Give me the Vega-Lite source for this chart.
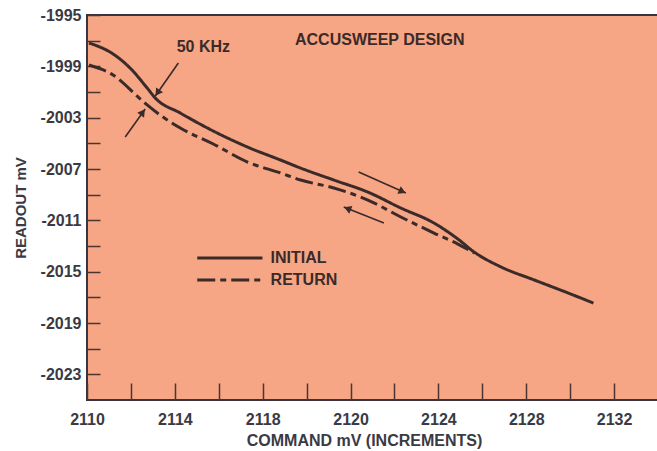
{
  "$schema": "https://vega.github.io/schema/vega-lite/v6.json",
  "width": 571,
  "height": 385,
  "autosize": {"type": "none"},
  "padding": {"left": 87, "top": 15, "right": 0, "bottom": 51},
  "background": "white",
  "config": {
    "view": {"fill": "#F6A684", "stroke": "#3a3340", "strokeWidth": 2},
    "axis": {
      "domain": false,
      "grid": false,
      "labelFont": "Liberation Sans",
      "labelFontWeight": "bold",
      "labelFontSize": 16,
      "labelColor": "#3a3a44",
      "titleFont": "Liberation Sans",
      "titleFontWeight": "bold",
      "titleFontSize": 15,
      "titleColor": "#3a3a44",
      "tickColor": "#4a3434",
      "tickWidth": 1.5,
      "labelFlush": false,
      "labelOverlap": false
    }
  },
  "datasets": {
    "curves": [
      {"series": "INITIAL", "x": 2108.09, "y": -1997.18},
      {"series": "INITIAL", "x": 2109.19, "y": -1998.04},
      {"series": "INITIAL", "x": 2109.96, "y": -1999.13},
      {"series": "INITIAL", "x": 2110.74, "y": -2000.69},
      {"series": "INITIAL", "x": 2111.11, "y": -2001.47},
      {"series": "INITIAL", "x": 2112.25, "y": -2002.64},
      {"series": "INITIAL", "x": 2113.75, "y": -2004.04},
      {"series": "INITIAL", "x": 2115.31, "y": -2005.29},
      {"series": "INITIAL", "x": 2116.81, "y": -2006.30},
      {"series": "INITIAL", "x": 2117.73, "y": -2006.93},
      {"series": "INITIAL", "x": 2119.24, "y": -2007.86},
      {"series": "INITIAL", "x": 2120.79, "y": -2008.80},
      {"series": "INITIAL", "x": 2122.29, "y": -2010.04},
      {"series": "INITIAL", "x": 2123.80, "y": -2011.21},
      {"series": "INITIAL", "x": 2124.89, "y": -2012.46},
      {"series": "INITIAL", "x": 2125.63, "y": -2013.47},
      {"series": "INITIAL", "x": 2126.86, "y": -2014.64},
      {"series": "INITIAL", "x": 2128.37, "y": -2015.65},
      {"series": "INITIAL", "x": 2129.92, "y": -2016.67},
      {"series": "INITIAL", "x": 2131.06, "y": -2017.45},
      {"series": "RETURN", "x": 2108.09, "y": -1998.90},
      {"series": "RETURN", "x": 2109.19, "y": -1999.68},
      {"series": "RETURN", "x": 2110.33, "y": -2001.39},
      {"series": "RETURN", "x": 2110.74, "y": -2002.01},
      {"series": "RETURN", "x": 2112.25, "y": -2003.81},
      {"series": "RETURN", "x": 2113.75, "y": -2005.05},
      {"series": "RETURN", "x": 2115.31, "y": -2006.46},
      {"series": "RETURN", "x": 2116.81, "y": -2007.31},
      {"series": "RETURN", "x": 2117.73, "y": -2007.86},
      {"series": "RETURN", "x": 2119.24, "y": -2008.48},
      {"series": "RETURN", "x": 2120.79, "y": -2009.42},
      {"series": "RETURN", "x": 2122.29, "y": -2010.74},
      {"series": "RETURN", "x": 2123.80, "y": -2011.99},
      {"series": "RETURN", "x": 2124.89, "y": -2012.85},
      {"series": "RETURN", "x": 2125.63, "y": -2013.55}
    ],
    "arrows": [
      {"id": "a1", "x": 2112.16, "y": -1998.74, "x2": 2111.11, "y2": -2001.31, "hx": 2111.21, "hy": -2001.06, "angle": 214.9},
      {"id": "a2", "x": 2109.74, "y": -2004.51, "x2": 2110.65, "y2": -2002.32, "hx": 2110.54, "hy": -2002.58, "angle": 35.5},
      {"id": "a3", "x": 2120.37, "y": -2007.24, "x2": 2122.52, "y2": -2008.87, "hx": 2122.36, "hy": -2008.75, "angle": 114.1},
      {"id": "a4", "x": 2121.52, "y": -2011.21, "x2": 2119.69, "y2": -2009.96, "hx": 2119.86, "hy": -2010.08, "angle": 291.8}
    ],
    "notes": [
      {"x": 2113.30, "y": -1997.49, "text": "50 KHz"},
      {"x": 2121.33, "y": -1996.95, "text": "ACCUSWEEP DESIGN"}
    ],
    "key": [
      {"series": "INITIAL", "x": 2113.02, "x2": 2115.99, "y": -2013.94, "tx": 2116.36},
      {"series": "RETURN", "x": 2113.02, "x2": 2115.99, "y": -2015.65, "tx": 2116.36}
    ]
  },
  "encoding": {
    "x": {
      "field": "x",
      "type": "quantitative",
      "scale": {"domain": [2108, 2134], "nice": false, "zero": false},
      "axis": {
        "title": "COMMAND mV (INCREMENTS)",
        "titleFontSize": 16,
        "values": [2108, 2110, 2112, 2114, 2116, 2118, 2120, 2122, 2124, 2126, 2128, 2130, 2132],
        "format": "d",
        "labelExpr": "datum.value == 2108 ? '2110' : datum.value == 2112 ? '2114' : datum.value == 2116 ? '2118' : (datum.value % 4 == 0 ? datum.label : '')",
        "tickSize": -17,
        "labelPadding": 28,
        "titlePadding": 5,
        "titleX": 277
      }
    },
    "y": {
      "field": "y",
      "type": "quantitative",
      "scale": {"domain": [-2025, -1995], "nice": false, "zero": false},
      "axis": {
        "title": "READOUT mV",
        "values": [-2023, -2021, -2019, -2017, -2015, -2013, -2011, -2009, -2007, -2005, -2003, -2001, -1999, -1997, -1995],
        "labelExpr": "(datum.value + 1995) % 4 == 0 ? '-' + (-datum.value) : ''",
        "tickSize": -13,
        "labelPadding": 19,
        "titlePadding": 12
      }
    }
  },
  "layer": [
    {
      "data": {"name": "curves"},
      "mark": {"type": "line", "color": "#3b2a2a", "strokeWidth": 3, "interpolate": "monotone"},
      "encoding": {
        "detail": {"field": "series", "type": "nominal"},
        "strokeDash": {
          "field": "series",
          "type": "nominal",
          "scale": {"domain": ["INITIAL", "RETURN"], "range": [[1, 0], [18, 5, 6, 5]]},
          "legend": null
        }
      }
    },
    {
      "data": {"name": "arrows"},
      "mark": {"type": "rule", "color": "#3b2a2a", "strokeWidth": 1.6},
      "encoding": {
        "x2": {"field": "x2"},
        "y2": {"field": "y2"}
      }
    },
    {
      "data": {"name": "arrows"},
      "mark": {"type": "point", "shape": "triangle-up", "filled": true, "color": "#3b2a2a", "size": 70, "opacity": 1, "strokeWidth": 0},
      "encoding": {
        "x": {"field": "hx", "type": "quantitative"},
        "y": {"field": "hy", "type": "quantitative"},
        "angle": {"field": "angle", "type": "quantitative", "scale": null}
      }
    },
    {
      "data": {"name": "notes"},
      "mark": {"type": "text", "font": "Liberation Sans", "fontWeight": "bold", "fontSize": 16, "color": "#3b2a2a", "align": "center", "baseline": "middle"},
      "encoding": {"text": {"field": "text"}}
    },
    {
      "data": {"name": "key"},
      "mark": {"type": "rule", "color": "#3b2a2a", "strokeWidth": 3},
      "encoding": {
        "x2": {"field": "x2"},
        "strokeDash": {
          "field": "series",
          "type": "nominal",
          "scale": {"domain": ["INITIAL", "RETURN"], "range": [[1, 0], [18, 5, 6, 5]]},
          "legend": null
        }
      }
    },
    {
      "data": {"name": "key"},
      "mark": {"type": "text", "font": "Liberation Sans", "fontWeight": "bold", "fontSize": 16, "color": "#3b2a2a", "align": "left", "baseline": "middle"},
      "encoding": {
        "x": {"field": "tx", "type": "quantitative"},
        "text": {"field": "series"}
      }
    }
  ]
}
